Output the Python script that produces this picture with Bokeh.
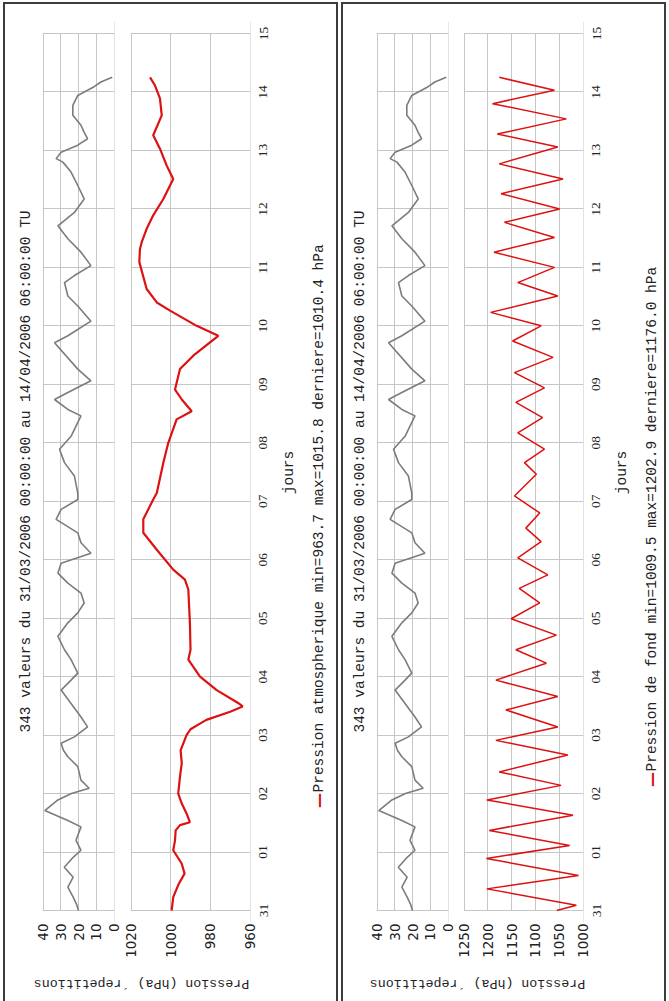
import math
from bokeh.plotting import figure
from bokeh.models import (Range1d, FixedTicker, Label, LabelSet, ColumnDataSource,
                          BoxAnnotation)
from bokeh.layouts import row, column
from bokeh.embed import file_html
from bokeh.resources import INLINE

# ---------------- data ----------------
day_ticks = list(range(16))
day_labels = ["31", "01", "02", "03", "04", "05", "06", "07", "08",
              "09", "10", "11", "12", "13", "14", "15"]
rep_ticks = [0, 10, 20, 30, 40]
atm_ticks = [960, 980, 1000, 1020]
fond_ticks = [1000, 1050, 1100, 1150, 1200, 1250]

title_text = "343 valeurs du 31/03/2006 00:00:00 au 14/04/2006 06:00:00 TU"
ylabel_text = "Pression (hPa) \u00b4repetitions"
xlabel_text = "jours"
legend_atm = "Pression atmospherique min=963.7 max=1015.8 derniere=1010.4 hPa"
legend_fond = "Pression de fond min=1009.5 max=1202.9 derniere=1176.0 hPa"

# repetitions (days since 31/03 00:00)
rep_days = [0.00, 0.10, 0.23, 0.40, 0.57, 0.74, 0.91, 1.03, 1.20, 1.43,
            1.54, 1.71, 1.89, 2.00, 2.09, 2.23, 2.46, 2.63, 2.74, 2.86,
            2.97, 3.14, 3.31, 3.54, 3.77, 3.94, 4.06, 4.29, 4.46, 4.69,
            4.92, 5.09, 5.26, 5.43, 5.60, 5.77, 5.94, 6.11, 6.29, 6.46,
            6.69, 6.86, 7.03, 7.14, 7.43, 7.66, 7.89, 8.11, 8.46, 8.57,
            8.74, 8.86, 9.06, 9.26, 9.71, 9.83, 10.08, 10.34, 10.51, 10.74,
            10.86, 11.03, 11.26, 11.49, 11.71, 11.94, 12.17, 12.40, 12.63, 12.80,
            12.86, 12.97, 13.09, 13.20, 13.31, 13.43, 13.60, 13.77, 13.94, 14.09,
            14.17, 14.25]
rep_vals = [20.0, 21.0, 23.0, 26.0, 23.0, 28.0, 23.0, 18.6, 21.4, 18.6,
            26.0, 39.0, 31.6, 24.0, 14.0, 18.6, 20.4, 26.0, 28.5, 29.8,
            22.3, 14.9, 18.6, 24.2, 29.8, 24.2, 20.4, 24.2, 27.9, 31.6,
            26.0, 20.4, 16.8, 18.6, 26.0, 31.6, 29.8, 13.0, 18.6, 20.4,
            32.6, 29.8, 20.4, 20.4, 22.3, 27.9, 30.7, 24.2, 18.6, 26.0,
            33.5, 26.0, 13.0, 20.4, 33.5, 26.0, 13.0, 20.4, 26.0, 27.9,
            22.3, 13.0, 18.6, 26.0, 31.6, 22.3, 16.8, 20.4, 24.2, 28.8,
            32.6, 29.8, 20.4, 14.9, 16.8, 18.6, 23.2, 23.2, 20.4, 11.2,
            7.4, 1.0]

atm_days = [0.00, 0.23, 0.45, 0.63, 0.80, 1.03, 1.20, 1.37, 1.46, 1.51,
            1.66, 1.83, 2.00, 2.29, 2.52, 2.74, 3.00, 3.10, 3.20, 3.26,
            3.40, 3.49, 3.55, 3.77, 4.00, 4.29, 4.46, 4.92, 5.49, 5.66,
            5.83, 6.17, 6.46, 6.69, 7.03, 7.14, 7.66, 8.00, 8.40, 8.54,
            8.74, 8.91, 9.26, 9.49, 9.83, 10.00, 10.26, 10.40, 10.63, 11.09,
            11.31, 11.43, 11.66, 11.89, 12.17, 12.51, 12.74, 13.03, 13.26, 13.60,
            13.89, 14.11, 14.25]
atm_vals = [999.5, 998.7, 996.0, 993.0, 994.4, 998.7, 997.8, 997.5, 995.3, 990.3,
            992.0, 994.4, 996.2, 995.3, 994.4, 995.0, 992.0, 990.0, 985.0, 982.0,
            970.0, 963.7, 966.0, 976.8, 985.2, 991.1, 990.0, 990.3, 991.1, 992.8,
            998.7, 1007.0, 1013.8, 1013.8, 1008.8, 1007.0, 1003.7, 1001.2, 997.0, 989.4,
            994.4, 997.8, 995.3, 988.6, 976.0, 986.9, 1000.3, 1007.0, 1012.1, 1015.8,
            1015.5, 1014.6, 1012.1, 1008.8, 1003.7, 998.7, 1002.0, 1005.4, 1008.8, 1004.5,
            1005.4, 1007.9, 1010.4]

fond_days = [0.00, 0.09, 0.37, 0.60, 0.89, 1.11, 1.37, 1.63, 1.89, 2.14,
             2.37, 2.66, 2.91, 3.14, 3.43, 3.66, 3.94, 4.23, 4.46, 4.71,
             4.99, 5.26, 5.51, 5.74, 6.03, 6.31, 6.54, 6.80, 7.09, 7.46,
             7.66, 7.89, 8.17, 8.43, 8.69, 8.94, 9.20, 9.46, 9.74, 10.00,
             10.23, 10.51, 10.74, 11.00, 11.26, 11.51, 11.77, 12.00, 12.26, 12.51,
             12.77, 13.06, 13.28, 13.54, 13.80, 14.03, 14.25]
fond_vals = [1055, 1014, 1202, 1009.5, 1202.9, 1028, 1197, 1021, 1202, 1046,
             1176, 1032, 1183, 1053, 1162, 1053, 1183, 1077, 1141, 1056,
             1151, 1091, 1134, 1074, 1137, 1088, 1120, 1091, 1144, 1098,
             1123, 1081, 1137, 1085, 1141, 1081, 1144, 1063, 1148, 1088,
             1194, 1053, 1137, 1060, 1187, 1060, 1165, 1049, 1172, 1042,
             1176, 1053, 1180, 1035, 1190, 1060, 1176.0]

# ---------------- styles / layout ----------------
GRID = "#c6c6c6"
TXT = "#222222"
MONO = "Liberation Mono"
SANS = "DejaVu Sans"
RED = "#dd1111"
GRAY = "#7c7c7c"
FH = 877                 # px for the 15 days
PPD = FH / 15.0          # px per day
EXT = 12                 # extra frame px above and below the day span
MBT = 29 - EXT
MBB = 45 - EXT
FRAME_H = FH + 2 * EXT
H = MBT + FRAME_H + MBB
FW_REP = 72
FW_P = 120
MBR_P = 7
DAY_RANGE = (-EXT / PPD, 15 + EXT / PPD)


def padded(hi, lo, fw):
    d = 0.5 * (hi - lo) / (fw - 1)
    return Range1d(hi + d, lo - d)


def style_value_axis(p, ticks):
    t = FixedTicker(ticks=ticks)
    p.xaxis.ticker = t
    p.xgrid.ticker = t
    ax = p.xaxis[0]
    ax.axis_line_color = None
    ax.major_tick_line_color = None
    ax.minor_tick_line_color = None
    ax.major_label_orientation = math.pi / 2
    ax.major_label_standoff = 7 - EXT
    ax.major_label_text_font = SANS
    ax.major_label_text_font_size = "13.5px"
    ax.major_label_text_color = TXT


def plot_style(p):
    p.outline_line_color = None
    p.xgrid.grid_line_color = GRID
    p.ygrid.grid_line_color = GRID
    p.ygrid.ticker = FixedTicker(ticks=day_ticks)
    p.background_fill_color = "white"
    p.border_fill_color = "white"
    m = 0.6 / PPD
    for kw in (dict(top=-m), dict(bottom=15 + m)):
        p.add_layout(BoxAnnotation(fill_color="white", fill_alpha=1.0,
                                   line_color=None, level="underlay", **kw))


def text_fig(w, h, **kw):
    p = figure(width=w, height=h, min_border=0, title=None,
               x_axis_location=None, y_axis_location=None,
               toolbar_location=None, output_backend="svg", **kw)
    p.outline_line_color = None
    p.xgrid.visible = False
    p.ygrid.visible = False
    return p


def mono_label(x, y, text, angle, align="center", size="14.5px", color=TXT, font=MONO, style="normal"):
    return Label(x=x, y=y, x_units="screen", y_units="screen",
                 text=text, angle=angle, text_align=align, text_baseline="middle",
                 text_font=font, text_font_size=size, text_font_style=style,
                 text_color=color)


def title_fig(w, x):
    p = text_fig(w, H)
    p.add_layout(mono_label(x, 446, title_text, math.pi / 2))
    return p


def rep_fig(mbl, mbr):
    p = figure(frame_width=FW_REP, frame_height=FRAME_H, title=None,
               min_border_left=mbl, min_border_right=mbr,
               min_border_top=MBT, min_border_bottom=MBB,
               x_range=padded(40, 0, FW_REP), y_range=Range1d(*DAY_RANGE),
               y_axis_location=None, toolbar_location=None,
               output_backend="svg")
    plot_style(p)
    style_value_axis(p, rep_ticks)
    p.line(x=rep_vals, y=rep_days, line_color=GRAY, line_width=1.6)
    return p


def press_fig(hi, lo, ticks, days, vals, lw):
    p = figure(frame_width=FW_P, frame_height=FRAME_H, title=None,
               min_border_left=8, min_border_right=MBR_P,
               min_border_top=MBT, min_border_bottom=MBB,
               x_range=padded(hi, lo, FW_P), y_range=Range1d(*DAY_RANGE),
               y_axis_location=None, toolbar_location=None,
               output_backend="svg")
    plot_style(p)
    style_value_axis(p, ticks)
    p.line(x=vals, y=days, line_color=RED, line_width=lw)
    return p


def side_fig(w, legend, dash_y, txt_y):
    p = figure(frame_width=w, frame_height=FRAME_H, title=None,
               min_border_left=0, min_border_right=0,
               min_border_top=MBT, min_border_bottom=MBB,
               x_range=Range1d(0, 1), y_range=Range1d(*DAY_RANGE),
               x_axis_location=None, y_axis_location=None,
               toolbar_location=None, output_backend="svg")
    p.outline_line_color = None
    p.xgrid.visible = False
    p.ygrid.visible = False
    src = ColumnDataSource(data=dict(day=day_ticks, lab=day_labels))
    p.add_layout(LabelSet(source=src, x=13 - MBR_P, y="day", text="lab",
                          x_units="screen", y_units="data", angle=math.pi / 2,
                          text_align="center", text_baseline="middle",
                          text_font=SANS, text_font_size="13.5px",
                          text_color=TXT))
    p.add_layout(mono_label(38 - MBR_P, 450, xlabel_text, math.pi / 2))
    p.add_layout(mono_label(68 - MBR_P, dash_y, "\u2014", math.pi / 2, size="15px",
                            color=RED, font=SANS, style="bold"))
    p.add_layout(mono_label(68 - MBR_P, txt_y, legend, math.pi / 2, align="left"))
    return p


def label_fig(w, cx):
    p = text_fig(w, 41)
    p.add_layout(mono_label(cx, 18, ylabel_text, math.pi, size="13.3px"))
    return p


BORDER = {"border": "2px solid #3c3c3c"}

t1 = title_fig(27, 20)
g1 = rep_fig(10, 8)
r1 = press_fig(1020, 960, atm_ticks, atm_days, atm_vals, 2.2)
s1 = side_fig(86 - MBR_P, legend_atm, 122, 130)
l1 = label_fig(331, 136)
panel1 = column(row(t1, g1, r1, s1), l1, styles=BORDER)

t2 = title_fig(23, 16)
g2 = rep_fig(10, 7)
r2 = press_fig(1250, 1000, fond_ticks, fond_days, fond_vals, 1.5)
s2 = side_fig(81 - MBR_P, legend_fond, 143, 151)
l2 = label_fig(321, 134)
panel2 = column(row(t2, g2, r2, s2), l2, styles=BORDER)

root = row(panel1, panel2, spacing=3, margin=(2, 0, 0, 3))

open("out.html", "w").write(file_html(root, INLINE))
